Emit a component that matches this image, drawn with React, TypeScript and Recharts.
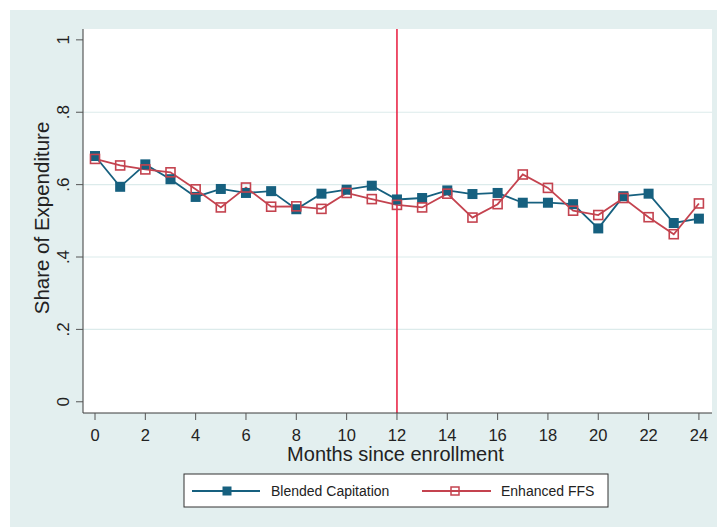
import React from "react";
import {
  LineChart,
  Line,
  XAxis,
  YAxis,
  CartesianGrid,
  ReferenceLine,
  Label,
} from "recharts";

const months = [0, 1, 2, 3, 4, 5, 6, 7, 8, 9, 10, 11, 12, 13, 14, 15, 16, 17, 18, 19, 20, 21, 22, 23, 24];
const blendedCapitation = [
  0.679, 0.594, 0.656, 0.615, 0.566, 0.588, 0.577, 0.582, 0.532, 0.575, 0.586, 0.597, 0.559,
  0.563, 0.584, 0.574, 0.577, 0.55, 0.55, 0.546, 0.479, 0.568, 0.575, 0.494, 0.506,
];
const enhancedFFS = [
  0.671, 0.653, 0.642, 0.634, 0.587, 0.537, 0.592, 0.539, 0.54, 0.533, 0.577, 0.56, 0.544,
  0.537, 0.575, 0.509, 0.546, 0.628, 0.591, 0.528, 0.516, 0.563, 0.51, 0.463, 0.548,
];
const xTicks = [0, 2, 4, 6, 8, 10, 12, 14, 16, 18, 20, 22, 24];
const yTicks = [0, 0.2, 0.4, 0.6, 0.8, 1];
const gridValues = [0.2, 0.4, 0.6, 0.8];
const seriesNames = ["Blended Capitation", "Enhanced FFS"];
const enrollmentLine = 12;

const BLUE = "#16607f";
const RED = "#c4434f";
const FONT = "'Liberation Sans', Arial, sans-serif";
const TEXT = "#222";
const AXIS = "#3a3a3a";

const data = months.map((m, i) => ({
  month: m,
  blended: blendedCapitation[i],
  ffs: enhancedFFS[i],
}));

const fmtY = (v: number) => {
  if (v === 0) return "0";
  if (v === 1) return "1";
  return v.toFixed(1).replace(/^0/, "");
};

const XTick = (props: any) => {
  const { x, y, payload } = props;
  return (
    <text x={x} y={y + 21} textAnchor="middle" fontSize={16.5} fill={TEXT} fontFamily={FONT}>
      {payload.value}
    </text>
  );
};

const YTick = (props: any) => {
  const { x, y, payload } = props;
  const bx = x - 7;
  return (
    <text
      x={bx}
      y={y}
      textAnchor="middle"
      fontSize={17}
      fill={TEXT}
      fontFamily={FONT}
      transform={`rotate(-90, ${bx}, ${y})`}
    >
      {fmtY(payload.value)}
    </text>
  );
};

const FilledSquare = (props: any) => {
  const { cx, cy, index } = props;
  if (cx == null || cy == null) return <g key={index} />;
  return <rect key={index} x={cx - 5} y={cy - 5} width={10} height={10} fill={BLUE} />;
};

const HollowSquare = (props: any) => {
  const { cx, cy, index } = props;
  if (cx == null || cy == null) return <g key={index} />;
  return (
    <rect
      key={index}
      x={cx - 4.5}
      y={cy - 4.5}
      width={9}
      height={9}
      fill="none"
      stroke={RED}
      strokeWidth={1.6}
    />
  );
};

function ChartLegend() {
  return (
    <svg
      width={426}
      height={36}
      style={{ position: "absolute", left: 183, top: 473 }}
    >
      <rect x={1} y={1} width={424} height={33} fill="#fff" stroke="#333" strokeWidth={1} />
      <line x1={9} x2={77} y1={18} y2={18} stroke={BLUE} strokeWidth={1.8} />
      <rect x={39.5} y={13.5} width={9} height={9} fill={BLUE} />
      <text x={88} y={23} fontSize={14} fill={TEXT} fontFamily={FONT}>
        {seriesNames[0]}
      </text>
      <line x1={239} x2={308} y1={18} y2={18} stroke={RED} strokeWidth={1.8} />
      <rect x={268} y={14} width={8} height={8} fill="none" stroke={RED} strokeWidth={1.5} />
      <text x={318} y={23} fontSize={14} fill={TEXT} fontFamily={FONT}>
        {seriesNames[1]}
      </text>
    </svg>
  );
}

export default function App() {
  return (
    <div
      style={{
        position: "absolute",
        left: 0,
        top: 0,
        width: 717,
        height: 527,
        background: "#fff",
        overflow: "hidden",
      }}
    >
      <div
        style={{
          position: "absolute",
          left: 10,
          top: 10,
          width: 707,
          height: 517,
          background: "#e3efef",
        }}
      />
      <div style={{ position: "absolute", left: 0, top: 0 }}>
        <LineChart
          width={717}
          height={527}
          data={data}
          margin={{ top: 29, right: 5, bottom: 74, left: 0 }}
        >
          <CartesianGrid fill="#ffffff" horizontal={false} vertical={false} />
          {gridValues.map((v) => (
            <ReferenceLine key={v} y={v} stroke="#dcebeb" strokeWidth={1.2} />
          ))}
          <XAxis
            dataKey="month"
            type="number"
            domain={[-0.477, 24.52]}
            allowDataOverflow
            ticks={xTicks}
            interval={0}
            height={40}
            tickSize={7}
            tickMargin={0}
            stroke={AXIS}
            tickLine={{ stroke: "#555" }}
            tick={<XTick />}
          >
            <Label
              content={(p: any) => {
                const vb = p.viewBox;
                return (
                  <text
                    x={vb.x + vb.width / 2 - 2}
                    y={vb.y + 47.5}
                    textAnchor="middle"
                    fontSize={20}
                    fill={TEXT}
                    fontFamily={FONT}
                  >
                    Months since enrollment
                  </text>
                );
              }}
            />
          </XAxis>
          <YAxis
            type="number"
            domain={[-0.031, 1.03]}
            allowDataOverflow
            ticks={yTicks}
            interval={0}
            width={83}
            tickSize={7}
            tickMargin={0}
            stroke={AXIS}
            tickLine={{ stroke: "#555" }}
            tick={<YTick />}
          >
            <Label
              content={(p: any) => {
                const vb = p.viewBox;
                const cx = vb.x + 48.5;
                const cy = vb.y + vb.height / 2 - 3;
                return (
                  <text
                    x={cx}
                    y={cy}
                    textAnchor="middle"
                    fontSize={20.5}
                    fill={TEXT}
                    fontFamily={FONT}
                    transform={`rotate(-90, ${cx}, ${cy})`}
                  >
                    Share of Expenditure
                  </text>
                );
              }}
            />
          </YAxis>
          <ReferenceLine x={enrollmentLine} stroke="#e8193c" strokeWidth={1.5} />
          <Line
            dataKey="blended"
            name={seriesNames[0]}
            stroke={BLUE}
            strokeWidth={1.8}
            dot={<FilledSquare />}
            activeDot={false}
            isAnimationActive={false}
          />
          <Line
            dataKey="ffs"
            name={seriesNames[1]}
            stroke={RED}
            strokeWidth={1.8}
            dot={<HollowSquare />}
            activeDot={false}
            isAnimationActive={false}
          />
        </LineChart>
      </div>
      <ChartLegend />
    </div>
  );
}
